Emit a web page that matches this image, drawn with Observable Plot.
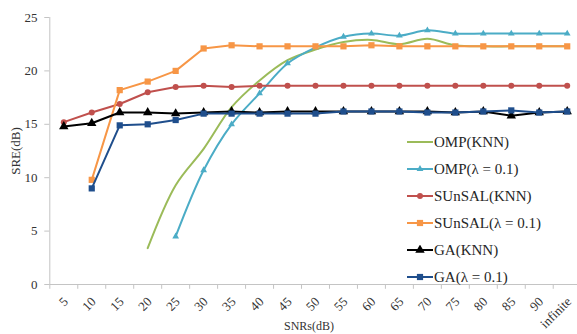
<!DOCTYPE html>
<html><head><meta charset="utf-8">
<script src="https://cdn.jsdelivr.net/npm/d3@7"></script>
<script src="https://cdn.jsdelivr.net/npm/@observablehq/plot@0.6"></script>
<style>
body{margin:0;background:#fff;}
#wrap{position:relative;width:577px;height:334px;font-family:"Liberation Serif","DejaVu Serif",serif;overflow:hidden;}
#legend{position:absolute;left:407px;top:0;}
.row{position:absolute;left:0;height:20px;display:flex;align-items:center;white-space:nowrap;font-size:15px;color:#262626;}
.row svg{margin-right:1px;}
</style></head><body><div id="wrap"></div>
<script>
const categories = ["5","10","15","20","25","30","35","40","45","50","55","60","65","70","75","80","85","90","infinite"];
const ompKnn     = [null,null,null,3.4,9.3,12.7,16.6,19.1,21.0,22.0,22.7,22.9,22.5,23.0,22.4,22.3,22.3,22.3,22.3];
const ompLambda  = [null,null,null,null,4.5,10.7,15.0,17.9,20.7,22.2,23.2,23.5,23.3,23.8,23.5,23.5,23.5,23.5,23.5];
const sunsalKnn  = [15.2,16.1,16.9,18.0,18.5,18.6,18.5,18.6,18.6,18.6,18.6,18.6,18.6,18.6,18.6,18.6,18.6,18.6,18.6];
const sunsalLambda = [null,9.8,18.2,19.0,20.0,22.1,22.4,22.3,22.3,22.3,22.3,22.4,22.3,22.3,22.3,22.3,22.3,22.3,22.3];
const gaKnn      = [14.8,15.1,16.1,16.1,16.0,16.1,16.2,16.1,16.2,16.2,16.2,16.2,16.2,16.2,16.1,16.2,15.8,16.1,16.2];
const gaLambda   = [null,9.0,14.9,15.0,15.4,16.0,16.0,16.0,16.0,16.0,16.2,16.2,16.2,16.1,16.1,16.2,16.3,16.1,16.2];
const seriesNames = ["OMP(KNN)","OMP(λ = 0.1)","SUnSAL(KNN)","SUnSAL(λ = 0.1)","GA(KNN)","GA(λ = 0.1)"];
const seriesValues = [ompKnn, ompLambda, sunsalKnn, sunsalLambda, gaKnn, gaLambda];
const seriesColors = ["#9bbb59","#4bacc6","#c0504d","#f79646","#000000","#1f4e8c"];
const seriesSymbols = [null,"triangle","circle","square","triangle","square"];
const seriesR = [0,2.5,3,3.5,3.5,3.5];
const seriesSmooth = [true,true,false,false,false,false];
const yTicks = [0,5,10,15,20,25];
const xTitle = "SNRs(dB)";
const yTitle = "SRE(dB)";

const axisGray = "#c4c4c4";
const n = categories.length;
const idx = categories.map((c,i)=>i);
const tickPos = [-0.5, ...idx.map(i=>i+0.5)];
const fontStack = '"Liberation Serif","DejaVu Serif",serif';

const marks = [
  Plot.ruleY([0], {x1: -0.5, x2: n - 0.5, stroke: axisGray}),
  Plot.ruleX([-0.5], {y1: 0, y2: yTicks[yTicks.length-1], stroke: axisGray}),
  Plot.ruleX(tickPos, {y1: 0, y2: -0.45, stroke: axisGray}),
  Plot.ruleY(yTicks, {x1: -0.5, x2: -0.68, stroke: axisGray}),
  Plot.text(idx, {x: d=>d, y: 0, text: d=>categories[d], rotate: -45, textAnchor: "end", dx: 2, dy: 15, fontSize: 13, fill: "#333"}),
  Plot.text([xTitle], {frameAnchor: "bottom", dx: -5, dy: 45, fontSize: 12, fill: "#333"})
];
seriesNames.forEach((name, s) => {
  const rows = [];
  seriesValues[s].forEach((v,i)=>{ if (v != null) rows.push({i, v}); });
  marks.push(Plot.line(rows, {x: "i", y: "v", stroke: seriesColors[s], strokeWidth: 2, curve: seriesSmooth[s] ? "catmull-rom" : "linear"}));
  if (seriesSymbols[s]) marks.push(Plot.dot(rows, {x: "i", y: "v", symbol: seriesSymbols[s], r: seriesR[s], fill: seriesColors[s], stroke: "none"}));
});

const chart = Plot.plot({
  width: 577, height: 334,
  marginLeft: 50, marginRight: 0, marginTop: 17, marginBottom: 50,
  x: {domain: [-0.5, n - 0.5], range: [49.3, 580.7], axis: null},
  y: {domain: [0, 25], range: [284, 17], ticks: yTicks, tickSize: 0, tickPadding: 13, label: yTitle, labelAnchor: "center", labelOffset: 40, labelArrow: false},
  style: {fontFamily: fontStack, fontSize: "13px", color: "#333", background: "white"},
  marks
});
const wrap = document.getElementById("wrap");
wrap.appendChild(chart);

const legend = document.createElement("div");
legend.id = "legend";
seriesNames.forEach((name, s) => {
  const row = document.createElement("div");
  row.className = "row";
  row.style.top = (132 + 27*s) + "px";
  const svg = d3.create("svg").attr("width", 26).attr("height", 10);
  svg.append("line").attr("x1",0).attr("x2",26).attr("y1",5).attr("y2",5).attr("stroke", seriesColors[s]).attr("stroke-width",2);
  if (seriesSymbols[s]) {
    const symMap = {triangle: d3.symbolTriangle, circle: d3.symbolCircle, square: d3.symbolSquare};
    svg.append("path").attr("transform","translate(13,5)").attr("d", d3.symbol(symMap[seriesSymbols[s]], Math.PI*seriesR[s]*seriesR[s])()).attr("fill", seriesColors[s]);
  }
  row.appendChild(svg.node());
  const t = document.createElement("span");
  t.textContent = name;
  row.appendChild(t);
  legend.appendChild(row);
});
wrap.appendChild(legend);
</script>
</body></html>
